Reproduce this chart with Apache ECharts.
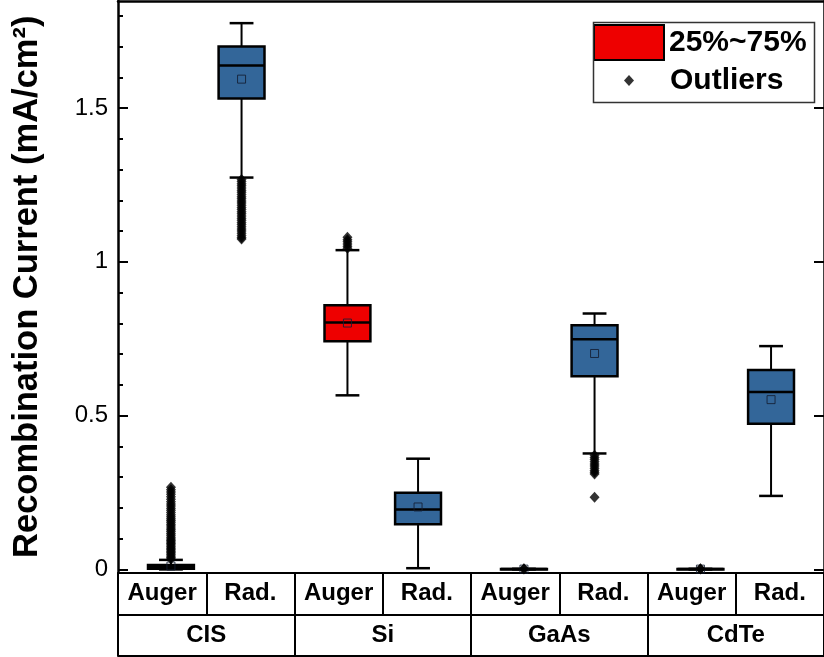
<!DOCTYPE html>
<html>
<head>
<meta charset="utf-8">
<script src="https://cdn.jsdelivr.net/npm/echarts@6/dist/echarts.min.js"></script>
<style>
  html, body { margin: 0; padding: 0; background: #fff; }
  #chart { width: 824px; height: 657px; }
</style>
</head>
<body>
<div id="chart"></div>
<script>
// Materials and recombination mechanisms
const groups = ['CIS', 'Si', 'GaAs', 'CdTe'];
const mechanisms = ['Auger', 'Rad.'];

// Box statistics, in order CIS Auger, CIS Rad., Si Auger, Si Rad., GaAs Auger, GaAs Rad., CdTe Auger, CdTe Rad.
const whiskerLow  = [0.000, 1.274, 0.566, 0.004, 0.000, 0.377, 0.000, 0.239];
const quartile1   = [0.002, 1.531, 0.742, 0.147, 0.000, 0.628, 0.000, 0.474];
const medians     = [0.007, 1.638, 0.803, 0.195, 0.001, 0.748, 0.001, 0.577];
const quartile3   = [0.014, 1.700, 0.859, 0.249, 0.001, 0.794, 0.001, 0.648];
const whiskerHigh = [0.031, 1.776, 1.038, 0.360, 0.002, 0.832, 0.002, 0.726];
const means       = [0.011, 1.594, 0.801, 0.203, 0.001, 0.702, 0.001, 0.552];

// Outlier values for each box (same order)
const outliers = [
  [0.034, 0.039, 0.044, 0.049, 0.054, 0.059, 0.064, 0.069, 0.074, 0.079, 0.084, 0.089, 0.094,
   0.099, 0.105, 0.111, 0.117, 0.123, 0.129, 0.135, 0.141, 0.147, 0.153, 0.159, 0.165, 0.171,
   0.178, 0.185, 0.192, 0.199, 0.206, 0.213, 0.220, 0.228, 0.236, 0.244, 0.252, 0.259, 0.267],
  [1.268, 1.261, 1.254, 1.247, 1.240, 1.233, 1.226, 1.219, 1.212, 1.205, 1.198, 1.191, 1.184,
   1.177, 1.170, 1.163, 1.156, 1.149, 1.142, 1.135, 1.128, 1.121, 1.114, 1.107, 1.100, 1.093,
   1.086, 1.079, 1.074],
  [1.044, 1.051, 1.058, 1.065, 1.072, 1.080],
  [],
  [0.001, 0.002],
  [0.371, 0.364, 0.357, 0.350, 0.343, 0.336, 0.329, 0.322, 0.316, 0.310, 0.235],
  [0.001, 0.002],
  []
];

// Axis ticks
const majorTicks = [0, 0.5, 1, 1.5];
const minorTicks = [0.1, 0.2, 0.3, 0.4, 0.6, 0.7, 0.8, 0.9, 1.1, 1.2, 1.3, 1.4, 1.6, 1.7, 1.8];
const highlightedBox = 2; // Si Auger: the 25%~75% example

const FONT = 'Liberation Sans, Arial, sans-serif';
const BLUE = '#336699';
const RED = '#ee0000';

// x position (in cell units) of each box: pairs sit around their group's centre
function boxPosition(i) {
  const g = Math.floor(i / 2);
  const side = i % 2 === 0 ? -1 : 1;
  return 2 * g + 1 + side * 0.4;
}

const cellLabels = [];
groups.forEach(() => mechanisms.forEach(m => cellLabels.push(m)));

const boxData = whiskerLow.map((_, i) => [
  boxPosition(i), whiskerLow[i], quartile1[i], medians[i], quartile3[i], whiskerHigh[i], means[i], i
]);

const outlierData = [];
outliers.forEach((list, i) => list.forEach(v => outlierData.push([boxPosition(i), v])));

function renderBox(params, api) {
  const x = api.value(0);
  const idx = api.value(7);
  const unit = api.size([1, 0])[0];
  const halfBox = unit * 0.26;
  const halfCap = unit * 0.135;
  const low = api.coord([x, api.value(1)]);
  const q1 = api.coord([x, api.value(2)]);
  const med = api.coord([x, api.value(3)]);
  const q3 = api.coord([x, api.value(4)]);
  const high = api.coord([x, api.value(5)]);
  const mean = api.coord([x, api.value(6)]);
  const cx = low[0];
  const fill = idx === highlightedBox ? RED : BLUE;
  const line = (x1, y1, x2, y2, w) => ({
    type: 'line', shape: { x1, y1, x2, y2 }, style: { stroke: '#000', lineWidth: w }
  });
  return {
    type: 'group',
    children: [
      line(cx, low[1], cx, q1[1], 2),
      line(cx, q3[1], cx, high[1], 2),
      line(cx - halfCap, low[1], cx + halfCap, low[1], 2.5),
      line(cx - halfCap, high[1], cx + halfCap, high[1], 2.5),
      {
        type: 'rect',
        shape: { x: cx - halfBox, y: q3[1], width: 2 * halfBox, height: q1[1] - q3[1] },
        style: { fill, stroke: '#000', lineWidth: 2.5 }
      },
      line(cx - halfBox, med[1], cx + halfBox, med[1], 2.5),
      {
        type: 'rect',
        shape: { x: cx - 4, y: mean[1] - 4, width: 8, height: 8 },
        style: { fill: 'none', stroke: 'rgba(20,30,50,0.85)', lineWidth: 1 }
      }
    ]
  };
}

const yMin = -0.01, yMax = 1.848;
const chart = echarts.init(document.getElementById('chart'), null, { renderer: 'canvas' });

const tableLine = { show: true, onZero: false, lineStyle: { color: '#000', width: 2 } };

chart.setOption({
  animation: false,
  textStyle: { fontFamily: FONT, color: '#000' },
  grid: { left: 118, right: -6, top: 1, bottom: 84.5 },
  xAxis: [
    { type: 'value', min: 0, max: 8, show: false, axisLine: { onZero: false } },
    {
      type: 'category', data: cellLabels, position: 'bottom',
      axisLine: tableLine,
      axisTick: { show: true, inside: false, length: 42.5, interval: 0, lineStyle: { color: '#000', width: 2 } },
      axisLabel: { interval: 0, fontSize: 24, fontWeight: 'bold', color: '#000', margin: 9, fontFamily: FONT },
      splitLine: { show: false }
    },
    {
      type: 'category', data: groups, position: 'bottom', offset: 42.5,
      axisLine: tableLine,
      axisTick: { show: true, inside: false, length: 41, interval: 0, lineStyle: { color: '#000', width: 2 } },
      axisLabel: { interval: 0, fontSize: 24, fontWeight: 'bold', color: '#000', margin: 8, fontFamily: FONT },
      splitLine: { show: false }
    },
    {
      type: 'category', data: groups, position: 'bottom', offset: 83.5,
      axisLine: tableLine,
      axisTick: { show: false }, axisLabel: { show: false }, splitLine: { show: false }
    },
    {
      type: 'value', min: 0, max: 8, position: 'top',
      axisLine: { show: true, onZero: false, lineStyle: { color: '#000', width: 2.5 } },
      axisTick: { show: false }, axisLabel: { show: false }, splitLine: { show: false }
    }
  ],
  yAxis: [
    {
      type: 'value', min: yMin, max: yMax, position: 'left',
      name: 'Recombination Current (mA/cm²)',
      nameLocation: 'middle', nameGap: 73,
      nameTextStyle: { fontSize: 34.5, fontWeight: 'bold', color: '#000', fontFamily: FONT },
      axisLine: { show: true, onZero: false, lineStyle: { color: '#000', width: 2.5 } },
      axisTick: { show: true, inside: true, length: 10, customValues: majorTicks, lineStyle: { color: '#000', width: 2 } },
      axisLabel: { customValues: majorTicks, fontSize: 24, color: '#000', margin: 10, fontFamily: FONT },
      splitLine: { show: false }
    },
    {
      type: 'value', min: yMin, max: yMax, position: 'left',
      axisLine: { show: false, onZero: false },
      axisTick: { show: true, inside: true, length: 5, customValues: minorTicks, lineStyle: { color: '#000', width: 2 } },
      axisLabel: { show: false }, splitLine: { show: false }
    },
    {
      type: 'value', min: yMin, max: yMax, position: 'right',
      axisLine: { show: true, onZero: false, lineStyle: { color: '#000', width: 2.5 } },
      axisTick: { show: true, inside: true, length: 10, customValues: majorTicks, lineStyle: { color: '#000', width: 2 } },
      axisLabel: { show: false }, splitLine: { show: false }
    }
  ],
  legend: [
    {
      data: [{ name: '25%~75%', icon: 'rect', itemStyle: { color: RED, borderColor: '#000', borderWidth: 2 } }],
      left: 593, top: 24, padding: 0, itemWidth: 70, itemHeight: 35, selectedMode: false,
      textStyle: { fontSize: 30, fontWeight: 'bold', color: '#000', fontFamily: FONT }
    },
    {
      data: [{ name: 'Outliers', icon: 'diamond' }],
      left: 624, top: 65.5, padding: 0, itemWidth: 10, itemHeight: 11, selectedMode: false,
      formatter: name => '{gap|}' + name,
      textStyle: {
        fontSize: 30, fontWeight: 'bold', color: '#000', fontFamily: FONT,
        rich: { gap: { width: 31 } }
      }
    }
  ],
  graphic: [
    {
      type: 'rect', left: 591, top: 20, z: 100, silent: true,
      shape: { width: 221, height: 80 },
      style: { fill: 'none', stroke: '#333', lineWidth: 1.5 }
    }
  ],
  series: [
    {
      name: '25%~75%', type: 'custom', xAxisIndex: 0, yAxisIndex: 0,
      itemStyle: { color: RED },
      renderItem: renderBox,
      encode: { x: 0, y: [1, 2, 3, 4, 5, 6] },
      data: boxData, z: 2
    },
    {
      name: 'Outliers', type: 'scatter', xAxisIndex: 0, yAxisIndex: 0,
      symbol: 'diamond', symbolSize: [10, 11],
      itemStyle: { color: '#000' },
      data: outlierData, z: 3
    }
  ]
});
</script>
</body>
</html>
